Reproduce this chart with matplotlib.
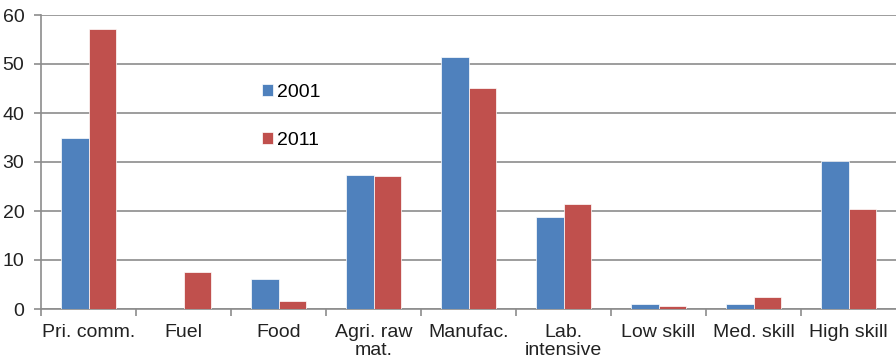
import numpy as np
import matplotlib
matplotlib.use("Agg")
import matplotlib.pyplot as plt

plt.rcParams['font.family'] = ['Liberation Sans', 'DejaVu Sans']

# data
categories = ['Pri. comm.', 'Fuel', 'Food', 'Agri. raw\nmat.', 'Manufac.',
              'Lab.\nintensive', 'Low skill', 'Med. skill', 'High skill']
y2001 = [34.9, 0.0, 6.2, 27.4, 51.4, 18.8, 1.0, 1.1, 30.3]
y2011 = [57.1, 7.5, 1.7, 27.2, 45.0, 21.4, 0.7, 2.5, 20.4]
yticks = [0, 10, 20, 30, 40, 50, 60]

blue = '#4F81BD'
red = '#C0504D'
grid_col = '#8C8C8C'

fig = plt.figure(figsize=(8.96, 3.62), dpi=100)
ax = fig.add_axes([41 / 896, 1 - 309 / 362, 1 - 41 / 896, (309 - 15) / 362])

x = np.arange(len(categories))
w = 0.286
ax.bar(x - w / 2, y2001, w, color=blue, edgecolor='white', linewidth=0.5, label='2001', zorder=3)
ax.bar(x + w / 2, y2011, w, color=red, edgecolor='white', linewidth=0.5, label='2011', zorder=3)

ax.set_xlim(-0.5, len(categories) - 0.5)
ax.set_ylim(0, 60)
ax.set_yticks(yticks)
ax.set_yticklabels([str(t) for t in yticks], fontsize=14, color='#222222')
ax.yaxis.grid(True, color=grid_col, linewidth=1.2, zorder=0)

# category labels centred, tick marks between categories
ax.set_xticks(x)
ax.set_xticklabels(categories, fontsize=14, color='#222222', linespacing=1.05)
ax.tick_params(axis='x', length=0, pad=11)
ax.set_xticks(np.arange(-0.5, len(categories) - 0.5, 1.0), minor=True)
ax.tick_params(axis='x', which='minor', length=5, width=1.2, color=grid_col)
ax.tick_params(axis='y', length=5, width=1.2, color=grid_col, pad=7)

for s in ['top', 'right']:
    ax.spines[s].set_visible(False)
for s in ['left', 'bottom']:
    ax.spines[s].set_color(grid_col)
    ax.spines[s].set_linewidth(1.2)

ax.legend(loc='upper left', bbox_to_anchor=(262 / 896, 1 - 84 / 362),
          bbox_transform=fig.transFigure, frameon=False, fontsize=14,
          handlelength=0.55, handleheight=0.55, handletextpad=0.22,
          labelspacing=1.6, borderpad=0, borderaxespad=0)

fig.savefig('out.png', dpi=100)
